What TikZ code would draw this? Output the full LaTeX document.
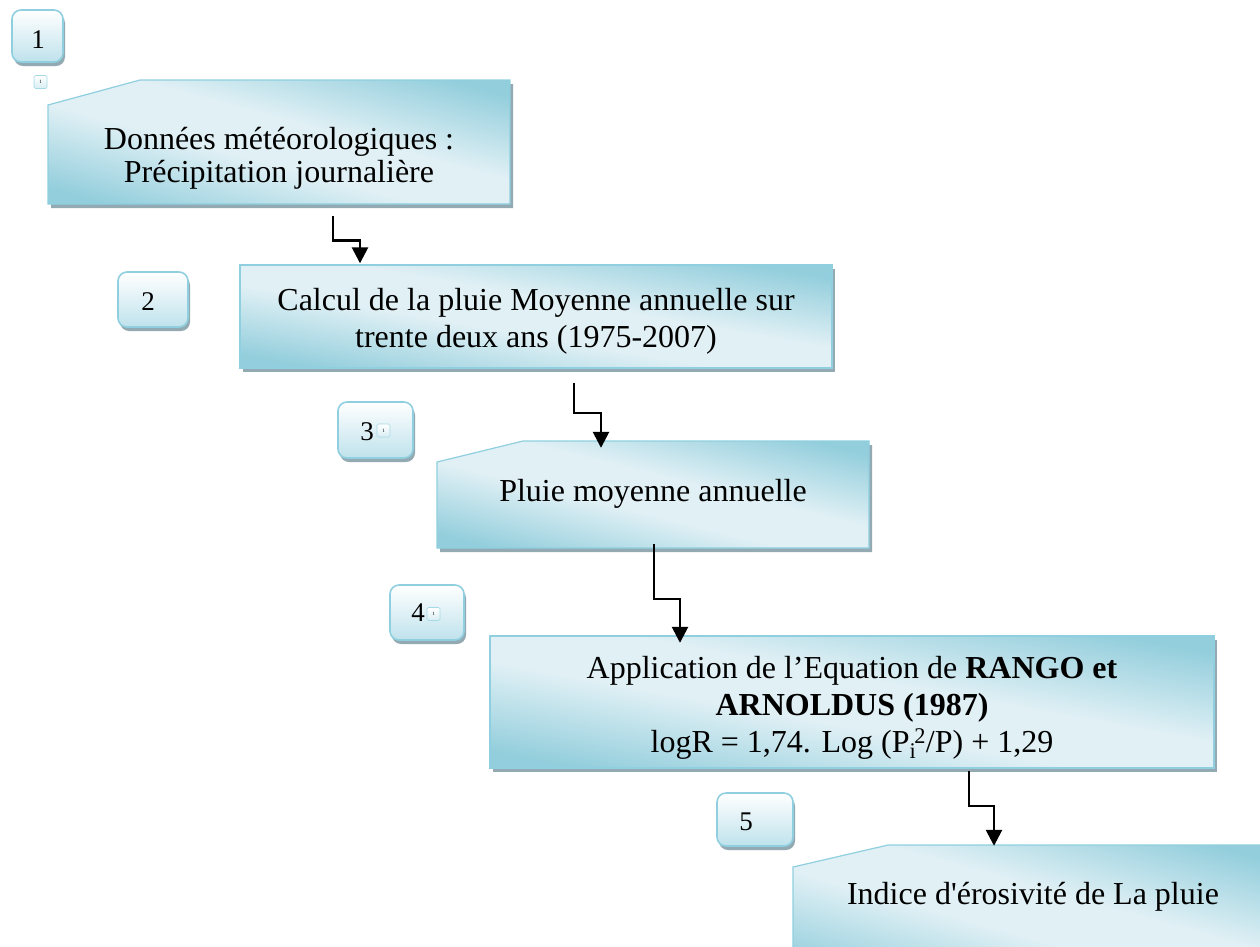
\documentclass[tikz,border=0pt]{standalone}
\usepackage{fontspec}
\setmainfont{Liberation Serif}
\usetikzlibrary{shadows,arrows.meta,calc}
\definecolor{edgeblue}{HTML}{8FCFDF}
\definecolor{darkblue}{HTML}{93CEDC}
\definecolor{lightblue}{HTML}{E0F0F5}
\definecolor{shadowc}{HTML}{93AAB3}
\definecolor{numtop}{HTML}{FFFFFF}
\definecolor{numbot}{HTML}{BFE2EC}
\pgfdeclarehorizontalshading{diagblue}{100bp}{color(0bp)=(darkblue); color(19bp)=(darkblue); color(43bp)=(lightblue); color(57bp)=(lightblue); color(81bp)=(darkblue); color(100bp)=(darkblue)}
\newcommand\diagbox[5]{%
  \fill[shadowc, xshift=3pt, yshift=-4pt] #1;
  \begin{scope}
    \clip #1;
    \begin{scope}[transform canvas={shift={(#2,#5)}, xscale={(#4-#2)/100}, yscale={(#5-#3)/100}}]
      \shade[shading=diagblue, shading angle=45] (0pt,0pt) rectangle (100pt,100pt);
    \end{scope}
  \end{scope}
  \draw[edgeblue, line width=1.2pt] #1;
}
\tikzset{
  txt/.style={font=\fontsize{32}{37}\selectfont, align=center, inner sep=0pt},
  numbox/.style={draw=edgeblue, line width=1.6pt, rounded corners=9pt, top color=numtop, bottom color=numbot,
    drop shadow={shadow xshift=2pt, shadow yshift=-4pt, fill=shadowc, opacity=1}},
  numtxt/.style={font=\fontsize{27}{30}\selectfont, inner sep=0pt},
  badge/.style={draw=edgeblue!80, line width=0.6pt, rounded corners=1.5pt, top color=white, bottom color=numbot!60,
    minimum width=13pt, minimum height=13pt, inner sep=0pt, font=\fontsize{5}{6}\selectfont},
  conn/.style={draw=black, line width=2.6pt, -{Triangle[width=16pt,length=16pt]}}
}
\begin{document}
\begin{tikzpicture}[x=1pt,y=-1pt]
\useasboundingbox (0,0) rectangle (1260,946);
\clip (0,0) rectangle (1260,946);
% number boxes
\path[numbox] (12,10) rectangle (63,62);
\node[numtxt] (n1) at (38,40) {1};
\node[badge] (s0) at (40.5,82) {1};
\path[numbox] (118,272) rectangle (188,327);
\node[numtxt] (n2) at (148,302) {2};
\path[numbox] (338,402) rectangle (413,458);
\node[numtxt] (n3) at (367,432) {3};
\node[badge] (s3) at (383.5,430.5) {1};
\path[numbox] (390,585) rectangle (464,640);
\node[numtxt] (n4) at (418,613) {4};
\node[badge] (s4) at (433.5,614) {1};
\path[numbox] (717,793) rectangle (793,846);
\node[numtxt] (n5) at (746,822) {5};
% big boxes
\diagbox{(48,105) -- (140,80) -- (510,80) -- (510,204) -- (48,204) -- cycle}{48}{80}{510}{204}
\node[txt, font=\fontsize{32}{33}\selectfont, minimum width=462pt, minimum height=99pt] (b1) at (279,158.5) {Données météorologiques :\\Précipitation journalière};
\diagbox{(240,265) rectangle (832,368)}{240}{265}{832}{368}
\node[txt, minimum width=592pt, minimum height=103pt] (b2) at (536,321) {Calcul de la pluie Moyenne annuelle sur\\trente deux ans (1975-2007)};
\diagbox{(437,462) -- (523,441) -- (869,441) -- (869,548) -- (437,548) -- cycle}{437}{441}{869}{548}
\node[txt, minimum width=432pt, minimum height=107pt] (b3) at (653,494.5) {};
\node[txt] (t3) at (653,494) {Pluie moyenne annuelle};
\diagbox{(490,636) rectangle (1214,768)}{490}{636}{1214}{768}
\node[txt, minimum width=724pt, minimum height=132pt] (b4) at (852,708) {Application de l’Equation de \textbf{RANGO et}\\\textbf{ARNOLDUS (1987)}\\logR = 1,74. Log (P\textsubscript{i}\kern-2pt\textsuperscript{2}/P) + 1,29};
\diagbox{(793,867) -- (888,845) -- (1275,845) -- (1275,980) -- (793,980) -- cycle}{793}{845}{1275}{980}
\node[txt, minimum width=482pt, minimum height=135pt] (b5) at (1034,912.5) {};
\node[txt] (t5) at (1033,897) {Indice d\textquotesingle érosivité de La pluie};
% connectors
\draw[conn] ([xshift=54pt,yshift=-8pt]b1.south) |- ([xshift=-176pt,yshift=29pt]b2.north) -- ([xshift=-176pt,yshift=6pt]b2.north);
\draw[conn] ([xshift=38pt,yshift=-10pt]b2.south) |- ([xshift=-52pt,yshift=28pt]b3.north) -- ([xshift=-52pt,yshift=-7pt]b3.north);
\draw[conn] ([xshift=1pt,yshift=4pt]b3.south) |- ([xshift=-172pt,yshift=43pt]b4.north) -- ([xshift=-172pt,yshift=-1pt]b4.north);
\draw[conn] ([xshift=117pt,yshift=3pt]b4.south) |- ([xshift=-40pt,yshift=39pt]b5.north) -- ([xshift=-40pt,yshift=-1pt]b5.north);
\end{tikzpicture}
\end{document}
